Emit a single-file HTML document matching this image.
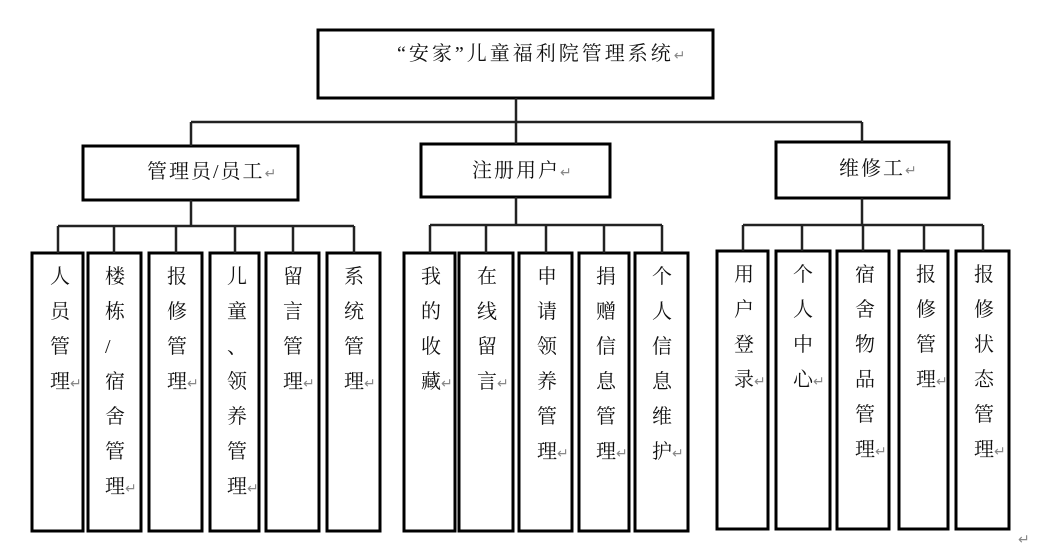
<!DOCTYPE html>
<html><head><meta charset="utf-8"><style>
body{margin:0;background:#fff;width:1045px;height:552px;position:relative;overflow:hidden;font-family:"Liberation Serif","Noto Serif CJK SC","Noto Sans CJK SC",serif;color:#111}
.t{position:absolute;font-size:20px;white-space:nowrap;letter-spacing:2px;line-height:24px}
.v{position:absolute;font-size:20px;line-height:35px;width:24px;white-space:pre}
.r{color:#888;font-size:14px;font-family:"DejaVu Sans",sans-serif;letter-spacing:0}
</style></head><body>
<svg width="1045" height="552" style="position:absolute;left:0;top:0">
<g fill="none" stroke="#000" stroke-width="3">
<rect x="318" y="30" width="395" height="68"/>
<rect x="83" y="146" width="215" height="54"/>
<rect x="421" y="144" width="189" height="53"/>
<rect x="776" y="142" width="173" height="56"/>
<rect x="32" y="253" width="51" height="278"/>
<rect x="88" y="253" width="53" height="278"/>
<rect x="149" y="253" width="53" height="278"/>
<rect x="210" y="253" width="49" height="278"/>
<rect x="266" y="253" width="53" height="278"/>
<rect x="327" y="253" width="53" height="278"/>
<rect x="404" y="253" width="51" height="278"/>
<rect x="459" y="253" width="54" height="278"/>
<rect x="519" y="253" width="53" height="278"/>
<rect x="579" y="253" width="50" height="278"/>
<rect x="635" y="253" width="53" height="278"/>
<rect x="717" y="251" width="51" height="278"/>
<rect x="776" y="251" width="54" height="278"/>
<rect x="837" y="251" width="52" height="278"/>
<rect x="899" y="251" width="49" height="278"/>
<rect x="956" y="251" width="53" height="278"/>
</g>
<g fill="none" stroke="#222" stroke-width="2.5">
<path d="M516 98V122M191 122H862M191 122V146M516 122V144M862 122V142"/>
<path d="M191 200V226M58 226H354M58 226V253M114 226V253M176 226V253M235 226V253M293 226V253M354 226V253"/>
<path d="M516 197V225M430 225H662M430 225V253M486 225V253M546 225V253M604 225V253M662 225V253"/>
<path d="M862 198V225M743 225H983M743 225V251M802 225V251M863 225V251M924 225V251M983 225V251"/>
</g>
</svg>
<div class="t" style="left:397px;top:42px;letter-spacing:3px">“安家”儿童福利院管理系统<span class="r">↵</span></div>
<div class="t" style="left:147px;top:160px">管理员/员工<span class="r">↵</span></div>
<div class="t" style="left:472px;top:159px">注册用户<span class="r">↵</span></div>
<div class="t" style="left:839px;top:157px">维修工<span class="r">↵</span></div>

<div class="v" style="left:50px;top:260px">人
员
管
理<span class="r">↵</span></div>
<div class="v" style="left:105px;top:260px">楼
栋
/
宿
舍
管
理<span class="r">↵</span></div>
<div class="v" style="left:167px;top:260px">报
修
管
理<span class="r">↵</span></div>
<div class="v" style="left:227px;top:260px">儿
童
、
领
养
管
理<span class="r">↵</span></div>
<div class="v" style="left:283px;top:260px">留
言
管
理<span class="r">↵</span></div>
<div class="v" style="left:344px;top:260px">系
统
管
理<span class="r">↵</span></div>
<div class="v" style="left:421px;top:260px">我
的
收
藏<span class="r">↵</span></div>
<div class="v" style="left:477px;top:260px">在
线
留
言<span class="r">↵</span></div>
<div class="v" style="left:537px;top:260px">申
请
领
养
管
理<span class="r">↵</span></div>
<div class="v" style="left:596px;top:260px">捐
赠
信
息
管
理<span class="r">↵</span></div>
<div class="v" style="left:652px;top:260px">个
人
信
息
维
护<span class="r">↵</span></div>
<div class="v" style="left:734px;top:258px">用
户
登
录<span class="r">↵</span></div>
<div class="v" style="left:793px;top:258px">个
人
中
心<span class="r">↵</span></div>
<div class="v" style="left:855px;top:258px">宿
舍
物
品
管
理<span class="r">↵</span></div>
<div class="v" style="left:916px;top:258px">报
修
管
理<span class="r">↵</span></div>
<div class="v" style="left:974px;top:258px">报
修
状
态
管
理<span class="r">↵</span></div>
<div class="t r" style="left:1018px;top:528px">↵</div>
</body></html>
